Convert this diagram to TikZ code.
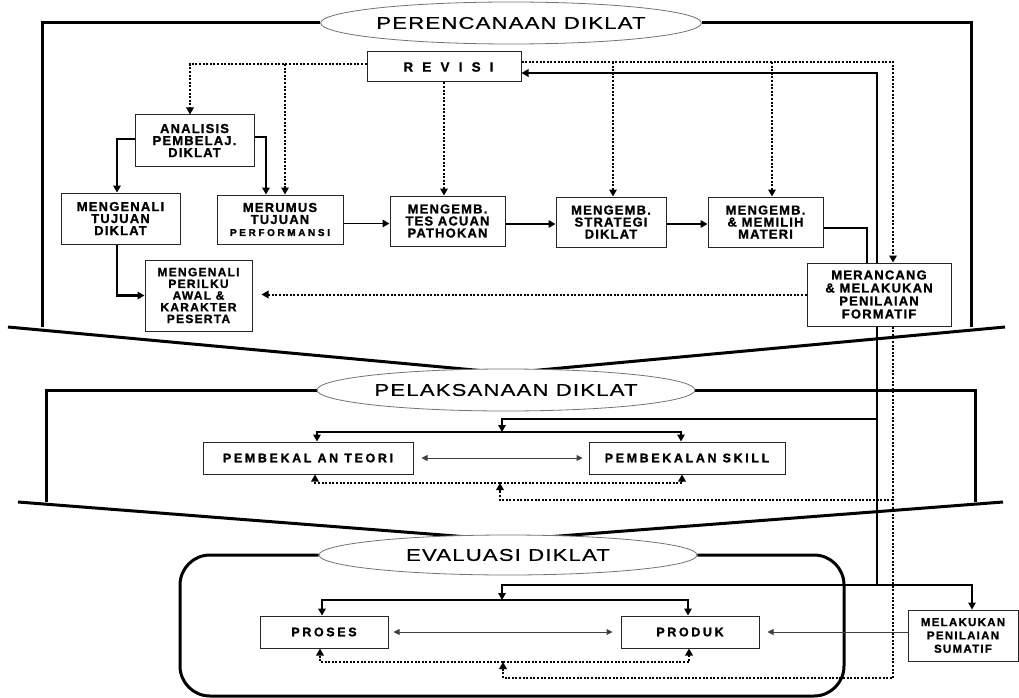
\documentclass[tikz,border=0pt]{standalone}
\usepackage{fontspec}
\setmainfont{Liberation Sans}
\newfontfamily\hdfont[FakeStretch=1.3,LetterSpace=7,FakeBold=0.6]{Liberation Sans}
\newfontfamily\bxfont[LetterSpace=9,FakeBold=1.2]{Liberation Sans Bold}
\newfontfamily\bxwfont[LetterSpace=21,FakeBold=1.2]{Liberation Sans Bold}
\newfontfamily\perffont[LetterSpace=26,FakeBold=1.2]{Liberation Sans Bold}
\newfontfamily\sumfont[LetterSpace=11,FakeBold=1.2]{Liberation Sans Bold}
\newfontfamily\perifont[LetterSpace=10.5,FakeBold=1.2]{Liberation Sans Bold}
\newfontfamily\revfont[LetterSpace=68,FakeBold=0.8]{Liberation Sans Bold}
\usetikzlibrary{arrows.meta,shapes.geometric,calc}
\pgfdeclarelayer{bg}
\pgfsetlayers{bg,main}
\tikzset{
  box/.style={draw=black!85, line width=1pt, fill=white, inner sep=0pt, align=center,
    font=\bxfont\fontsize{13}{12}\selectfont},
  boxw/.style={box, font=\bxwfont\fontsize{12.5}{12.5}\selectfont},
  head/.style={ellipse, draw=black!55, line width=0.8pt, fill=white, minimum width=378pt,
    minimum height=42pt, inner sep=0pt, font=\hdfont\fontsize{17}{17}\selectfont},
  frame/.style={line width=3pt},
  sol/.style={line width=1.6pt},
  sol2/.style={line width=2.4pt},
  thk/.style={line width=2.2pt},
  dot/.style={line width=2pt, dash pattern=on 2pt off 1.6pt},
  thin/.style={line width=1pt, draw=black!75},
  >={Triangle[length=7pt,width=7.5pt]},
  thintip/.style={>={Triangle[length=6pt,width=6pt]}}
}
\begin{document}
\begin{tikzpicture}[x=1pt,y=-1pt]
\useasboundingbox (0,0) rectangle (1019,698);
% headers
\node[head] (h1) at (511,23) {PERENCANAAN DIKLAT};
\node[head] (h2) at (506,390) {PELAKSANAAN DIKLAT};
\node[head, minimum height=40pt] (h3) at (508,555) {EVALUASI DIKLAT};
% boxes top
\node[box, minimum width=154pt, minimum height=30pt] (rev) at (444,67) {\revfont\fontsize{13.5}{13.5}\selectfont REVISI\kern-9pt};
\node[box, minimum width=119pt, minimum height=51pt] (anal) at (194.5,140.5) {ANALISIS\\PEMBELAJ.\\DIKLAT};
\node[box, minimum width=119pt, minimum height=51pt] (mtuj) at (120.5,218.5) {MENGENALI\\TUJUAN\\DIKLAT};
\node[box, minimum width=126pt, minimum height=49pt] (meru) at (280,219.5) {MERUMUS\\TUJUAN\\{\perffont\fontsize{10}{12}\selectfont PERFORMANSI}};
\node[box, minimum width=115pt, minimum height=50pt] (tes) at (447.5,221) {MENGEMB.\\TES ACUAN\\PATHOKAN};
\node[box, minimum width=110pt, minimum height=50pt] (stra) at (611,222) {MENGEMB.\\STRATEGI\\DIKLAT};
\node[box, minimum width=115pt, minimum height=50pt] (mate) at (765.5,222) {MENGEMB.\\\& MEMILIH\\MATERI};
\node[box, minimum width=144pt, minimum height=63pt, font=\bxfont\fontsize{13}{13}\selectfont] (meran) at (879,294.5) {MERANCANG\\\& MELAKUKAN\\PENILAIAN\\FORMATIF};
\node[box, minimum width=107pt, minimum height=71pt, font=\perifont\fontsize{12}{11.7}\selectfont] (peri) at (198.5,295.5) {MENGENALI\\PERILKU\\AWAL \&\\KARAKTER\\PESERTA};
% middle
\node[boxw, minimum width=210pt, minimum height=32pt] (teori) at (308,458) {PEMBEKAL AN TEORI};
\node[boxw, minimum width=196pt, minimum height=32pt] (skill) at (687,458) {PEMBEKALAN SKILL};
% bottom
\node[boxw, minimum width=128pt, minimum height=32pt] (pros) at (324,632) {PROSES};
\node[boxw, minimum width=138pt, minimum height=32pt] (prod) at (690,632) {PRODUK};
\node[box, minimum width=110pt, minimum height=51pt, font=\sumfont\fontsize{11.5}{13.3}\selectfont] (suma) at (963,635.5) {MELAKUKAN\\PENILAIAN\\SUMATIF};

\begin{pgfonlayer}{bg}
% frames
\draw[frame] (h1.west) -- (42,23) -- (42,327);
\draw[frame] (h1.east) -- (971,23) -- (971,327);
\draw[frame] (8,327) -- (507,373) -- (1005,327);
\draw[frame] (h2.west) -- (46,390) -- (46,502);
\draw[frame] (h2.east) -- (975,390) -- (975,502);
\draw[frame] (18,502) -- (507,540) -- (1003,502);
\draw[frame, rounded corners=30pt] (h3.west) -- (180,555) -- (180,696) -- (844,696) -- (844,555) -- (h3.east);
% junction coordinates
\coordinate (vtop) at (877,73);
\coordinate (v1) at (877,419);
\coordinate (v2) at (877,585);
\coordinate (m1) at (502,419);
\coordinate (m2) at (502,432);
\coordinate (e1) at (502,585);
\coordinate (e2) at (502,600);
\coordinate (dl) at (285,64);
\coordinate (dr1) at (613,62);
\coordinate (dr2) at (772,62);
\coordinate (dv1) at (893,500);
\coordinate (dv2) at (893,678);
\coordinate (dm1) at (500,500);
\coordinate (dm2) at (500,483);
\coordinate (de1) at (503,678);
\coordinate (de2) at (503,662);
% top solid
\draw[thk,->] ([yshift=1.5pt]anal.west) -| ([xshift=-3.5pt]mtuj.north);
\draw[thk,->] ([yshift=3.5pt]anal.east) -| ([xshift=-14pt]meru.north);
\draw[thk,->] ([xshift=-3.5pt]mtuj.south) |- (peri.west);
\draw[sol,->] ([yshift=-4pt]meru.east) -- ([yshift=-4pt]meru.east -| tes.west);
\draw[sol,->] ([yshift=-3pt]tes.east) -- ([yshift=-3pt]tes.east -| stra.west);
\draw[sol,->] ([yshift=-2pt]stra.east) -- ([yshift=-2pt]stra.east -| mate.west);
\draw[sol] ([yshift=-6pt]mate.east) -| ([xshift=-12pt]meran.north);
\draw[sol2,->] (v2) -- (vtop) -- (vtop -| rev.east);
% top dotted
\draw[dot,->] ([yshift=3pt]rev.west) -| ([xshift=-4.5pt]anal.north);
\draw[dot,->] (dl) -- ([xshift=5pt]meru.north);
\draw[dot,->] (rev.south) -- (rev.south |- tes.north);
\draw[dot,->] ([yshift=5pt]rev.east) -| ([xshift=14pt]meran.north);
\draw[dot,->] (dr1) -- ([xshift=2pt]stra.north);
\draw[dot,->] (dr2) -- ([xshift=6.5pt]mate.north);
\draw[dot,->,shorten >=9pt] (meran.west) -- (meran.west -| peri.east);
\draw[dot] ([xshift=14pt]meran.south) -- (dv2) -- (de1);
% middle
\draw[sol,->] (v1) -- (m1) -- (m2);
\draw[sol,->] (m2) -| ([xshift=9pt]teori.north);
\draw[sol,->] (m2) -| ([xshift=-6pt]skill.north);
\draw[thin,thintip,<->] ([xshift=8pt]teori.east) -- ([xshift=-6pt]skill.west);
\draw[dot,->] (dv1) -- (dm1) -- (dm2);
\draw[dot,->] (dm2) -| ([xshift=7pt]teori.south);
\draw[dot,->] (dm2) -| ([xshift=-5pt]skill.south);
% evaluation
\draw[sol,->] (v2) -| ([xshift=9pt]suma.north);
\draw[sol,->] (v2) -- (e1) -- (e2);
\draw[sol,->] (e2) -| ([xshift=-2pt]pros.north);
\draw[sol,->] (e2) -| ([xshift=-2pt]prod.north);
\draw[thin,thintip,<->] ([xshift=5pt]pros.east) -- ([xshift=-8pt]prod.west);
\draw[thin,thintip,->] (prod.east -| suma.west) -- ([xshift=8pt]prod.east);
\draw[dot,->] (de1) -- (de2);
\draw[dot,->] (de2) -| ([xshift=-4pt]pros.south);
\draw[dot,->] (de2) -| ([xshift=-1pt]prod.south);
\end{pgfonlayer}
\end{tikzpicture}
\end{document}
